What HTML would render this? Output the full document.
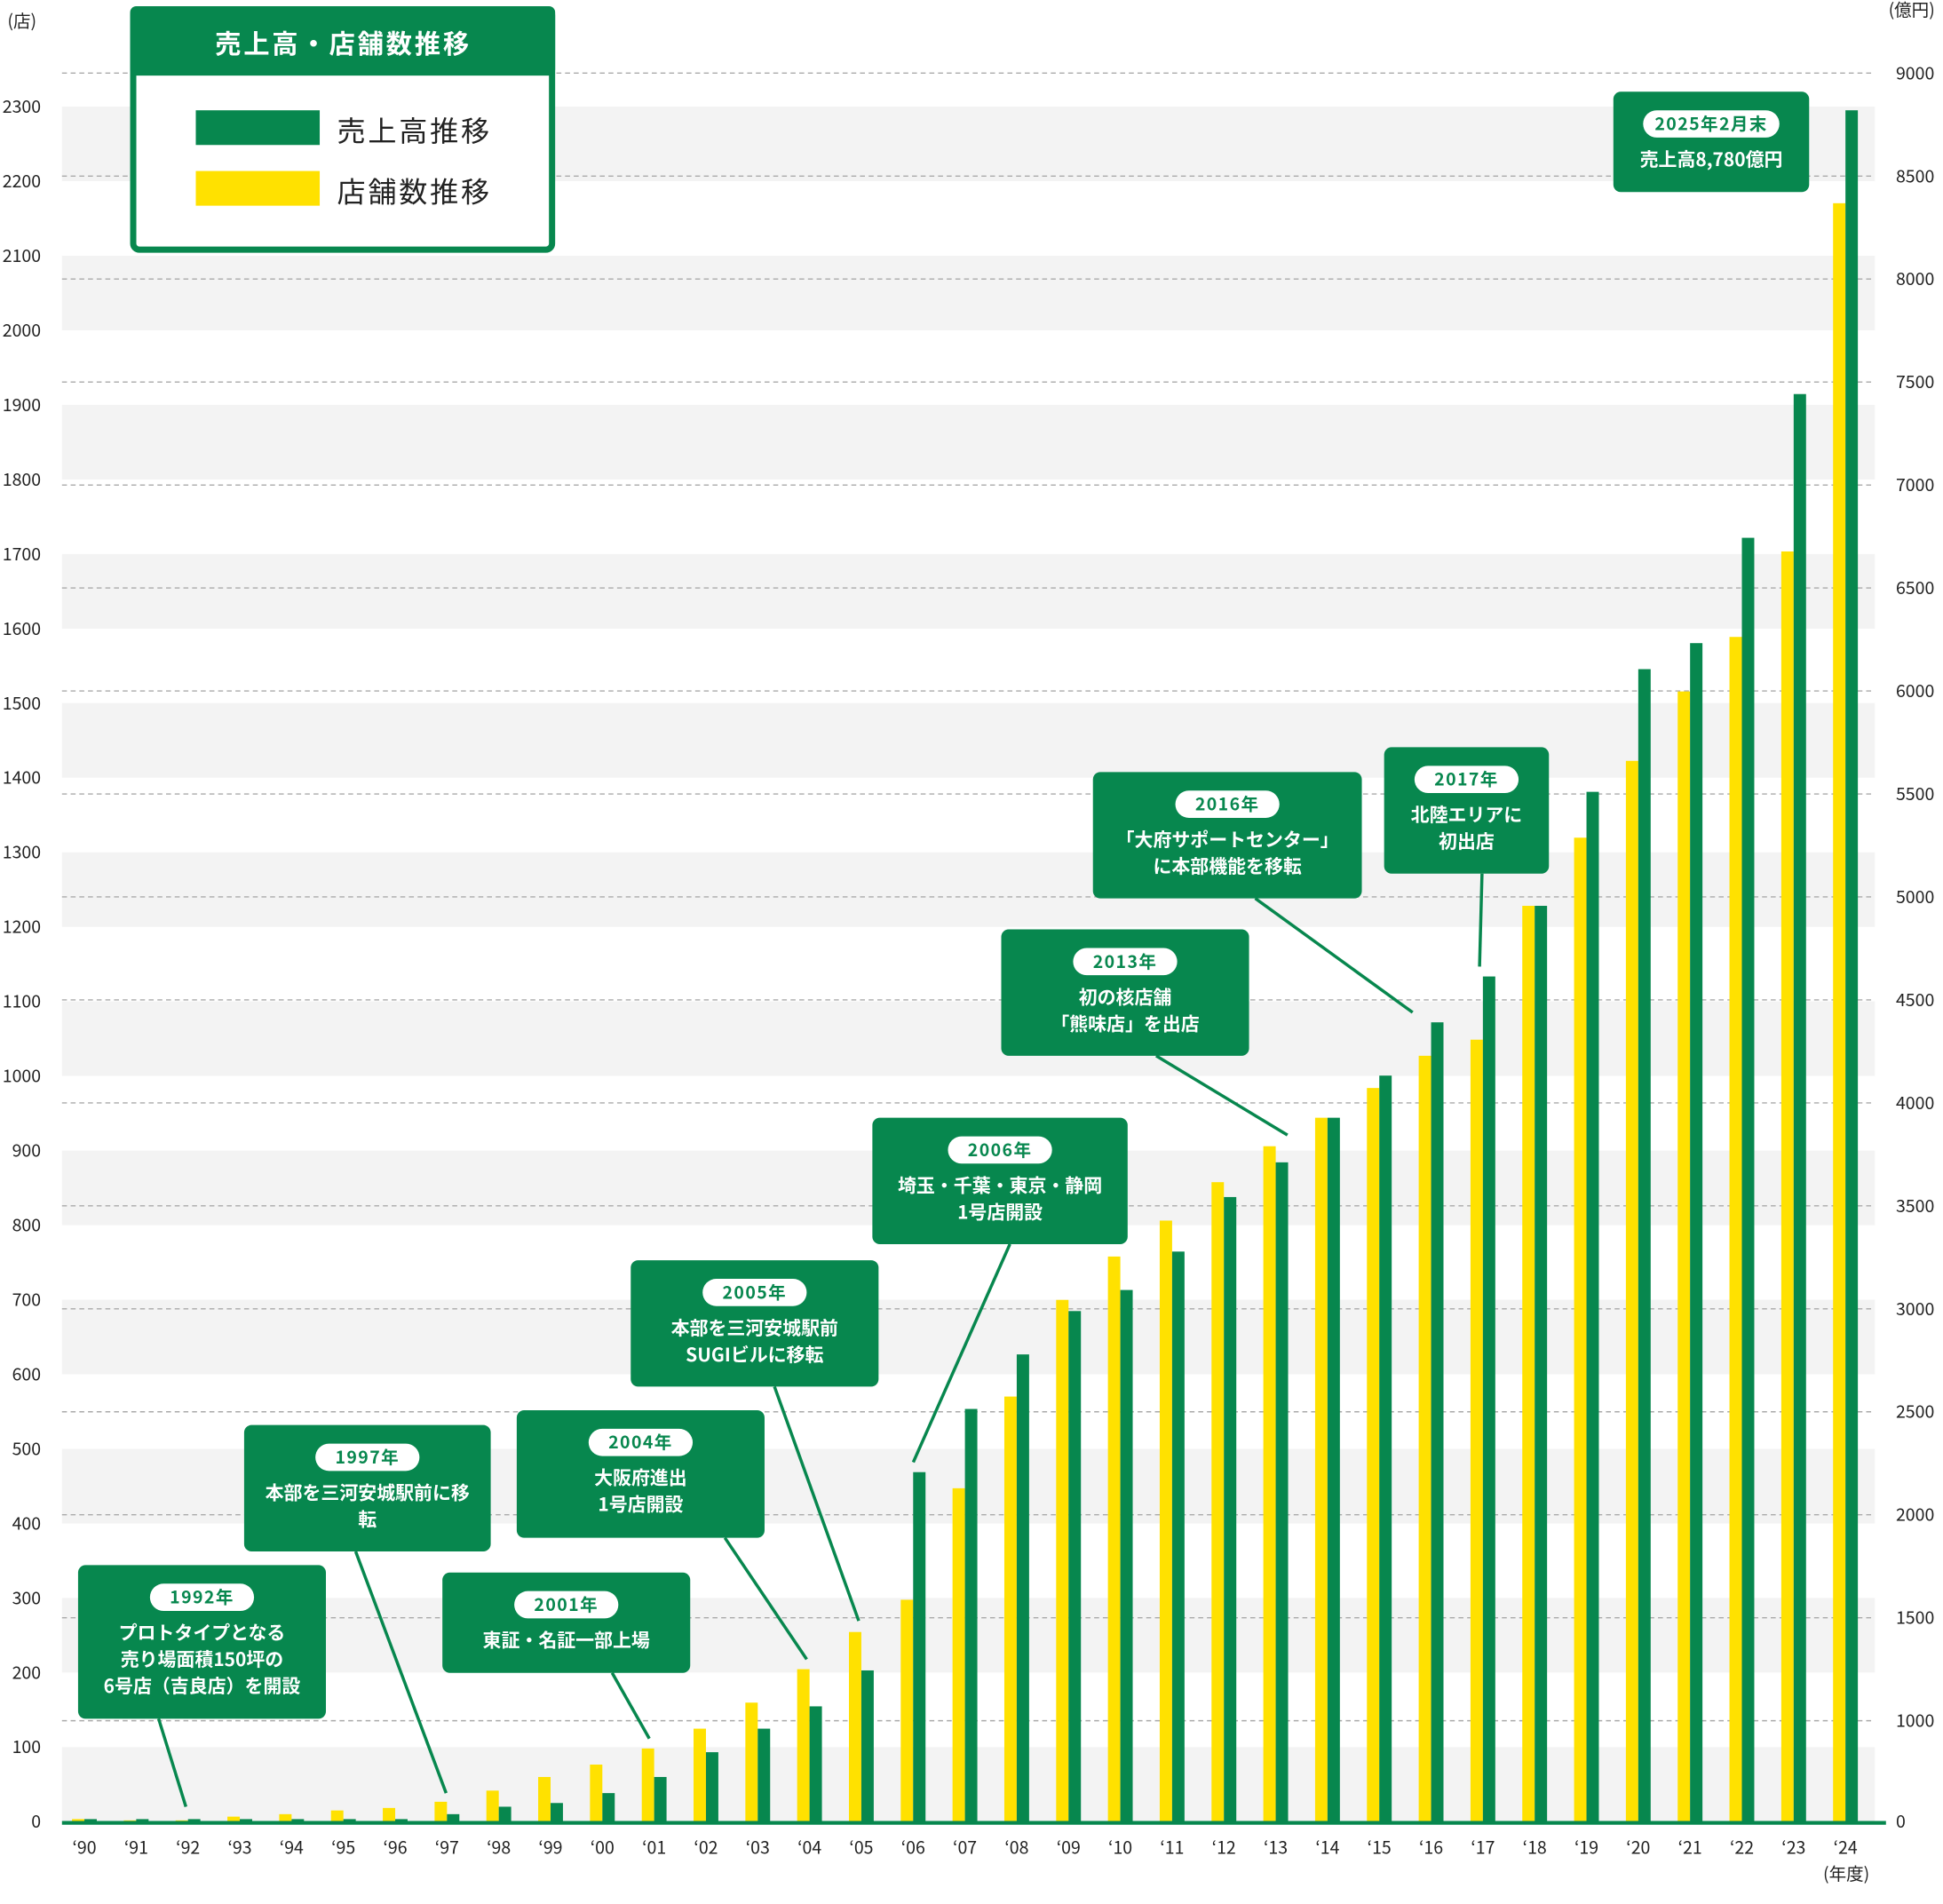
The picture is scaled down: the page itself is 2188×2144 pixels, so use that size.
<!DOCTYPE html>
<html><head><meta charset="utf-8"><style>
html,body{margin:0;padding:0;background:#fff;}
svg{display:block;font-family:"Noto Sans CJK JP","Liberation Sans",sans-serif;}
.al{font-size:14px;fill:#222;}
.xl{font-size:14px;fill:#222;text-anchor:middle;}
.pt{font-size:14px;font-weight:700;fill:#07874e;text-anchor:middle;letter-spacing:1px;}
.bt{font-size:15px;font-weight:700;fill:#fff;text-anchor:middle;}
</style></head><body>
<svg width="2188" height="2144" viewBox="0 0 1568 1536.5" xmlns="http://www.w3.org/2000/svg">
<g fill="#f3f3f3">
<rect x="50" y="86" width="1463" height="60.2"/>
<rect x="50" y="206.4" width="1463" height="60.2"/>
<rect x="50" y="326.7" width="1463" height="60.2"/>
<rect x="50" y="447.1" width="1463" height="60.2"/>
<rect x="50" y="567.4" width="1463" height="60.2"/>
<rect x="50" y="687.8" width="1463" height="60.2"/>
<rect x="50" y="808.1" width="1463" height="60.2"/>
<rect x="50" y="928.5" width="1463" height="60.2"/>
<rect x="50" y="1048.8" width="1463" height="60.2"/>
<rect x="50" y="1169.2" width="1463" height="60.2"/>
<rect x="50" y="1289.5" width="1463" height="60.2"/>
<rect x="50" y="1409.9" width="1463" height="60.2"/>
</g>
<g stroke="#aaa" stroke-width="1" stroke-dasharray="4,3" id="grid"></g>
<g id="bars"></g>
<line x1="50" y1="1471" x2="1522" y2="1471" stroke="#07874e" stroke-width="3"/>
<g id="labels"></g>
<text x="6" y="22" class="al">(店)</text>
<text x="1524" y="13" class="al">(億円)</text>
<text x="1490" y="1517" class="xl">(年度)</text>
<g id="callouts"></g>
<!-- legend -->
<rect x="107.5" y="7.5" width="338" height="194" rx="5" fill="#fff" stroke="#07874e" stroke-width="5"/>
<rect x="105" y="5" width="343" height="56" rx="5" fill="#07874e"/>
<text x="277" y="43" text-anchor="middle" font-size="21" font-weight="700" fill="#fff" letter-spacing="2">売上高・店舗数推移</text>
<rect x="158" y="89" width="100" height="28" fill="#07874e"/>
<rect x="158" y="138" width="100" height="28" fill="#ffe100"/>
<text x="272" y="114" font-size="23" fill="#222" letter-spacing="2">売上高推移</text>
<text x="272" y="163" font-size="23" fill="#222" letter-spacing="2">店舗数推移</text>
</svg>
<script>
var NS="http://www.w3.org/2000/svg";
function el(p,t,a,txt){var e=document.createElementNS(NS,t);for(var k in a)e.setAttribute(k,a[k]);if(txt!=null)e.textContent=txt;p.appendChild(e);return e;}
var g=document.getElementById('grid');
for(var k=0;k<=16;k++){var y=59+k*83.1;el(g,'line',{x1:50,y1:y,x2:1513,y2:y});}
var L=document.getElementById('labels');
for(var v=0;v<=2300;v+=100){var y=1470-v*0.6017;el(L,'text',{x:33,y:y+5,'class':'al','text-anchor':'end'},String(v));}
el(L,'text',{x:1530,y:1475,'class':'al'},'0');
for(var k=0;k<=16;k++){var y=59+k*83.1;el(L,'text',{x:1530,y:y+5,'class':'al'},String(9000-k*500));}
var yel=[1468,1469,1469,1466,1464,1461,1459,1454,1445,1434,1424,1411,1395,1374,1347,1317,1291,1201,1127,1049,1014,985,954,925,902,878,852,839,731,676,614,558,514,445,164];
var grn=[1468,1468,1468,1468,1468,1468,1468,1464,1458,1455,1447,1434,1414,1395,1377,1348,1188,1137,1093,1058,1041,1010,966,938,902,868,825,788,731,639,540,519,434,318,89];
var B=document.getElementById('bars');
for(var i=0;i<35;i++){var cx=68.1+i*41.8;
el(B,'rect',{x:cx-10,y:yel[i],width:10,height:1471-yel[i],fill:'#ffe100'});
el(B,'rect',{x:cx,y:grn[i],width:10,height:1471-grn[i],fill:'#07874e'});
var yr=(90+i)%100;el(L,'text',{x:cx,y:1496,'class':'xl'},'\u2018'+(yr<10?'0'+yr:yr));}
var C=document.getElementById('callouts');
var cs=[
[63,263,1263,1387,'1992年',['プロトタイプとなる','売り場面積150坪の','6号店（吉良店）を開設'],[128,1387,150,1458]],
[197,396,1150,1252,'1997年',['本部を三河安城駅前に移','転'],[287,1252,360,1447]],
[357,557,1269,1350,'2001年',['東証・名証一部上場'],[494,1350,524,1403]],
[417,617,1138,1241,'2004年',['大阪府進出','1号店開設'],[585,1241,651,1339]],
[509,709,1017,1119,'2005年',['本部を三河安城駅前','SUGIビルに移転'],[625,1119,693,1308]],
[704,910,902,1004,'2006年',['埼玉・千葉・東京・静岡','1号店開設'],[815,1004,737,1180]],
[808,1008,750,852,'2013年',['初の核店舗','「熊味店」を出店'],[933,852,1039,916]],
[882,1099,623,725,'2016年',['「大府サポートセンター」','に本部機能を移転'],[1013,725,1140,817]],
[1117,1250,603,705,'2017年',['北陸エリアに','初出店'],[1196,705,1194,780]],
[1302,1460,74,155,'2025年2月末',['売上高8,780億円'],null]
];
cs.forEach(function(c){
if(c[6])el(C,'line',{x1:c[6][0],y1:c[6][1],x2:c[6][2],y2:c[6][3],stroke:'#07874e','stroke-width':2.5});
el(C,'rect',{x:c[0],y:c[2],width:c[1]-c[0],height:c[3]-c[2],rx:6,fill:'#07874e'});
var cx=(c[0]+c[1])/2,py=c[2]+26,pw=c[4].length>6?110:84;
el(C,'rect',{x:cx-pw/2,y:py-11,width:pw,height:22,rx:11,fill:'#fff'});
el(C,'text',{x:cx,y:py+5,'class':'pt'},c[4]);
c[5].forEach(function(t,j){el(C,'text',{x:cx,y:c[2]+55+j*21.5+5,'class':'bt'},t);});
});
</script>
</body></html>
